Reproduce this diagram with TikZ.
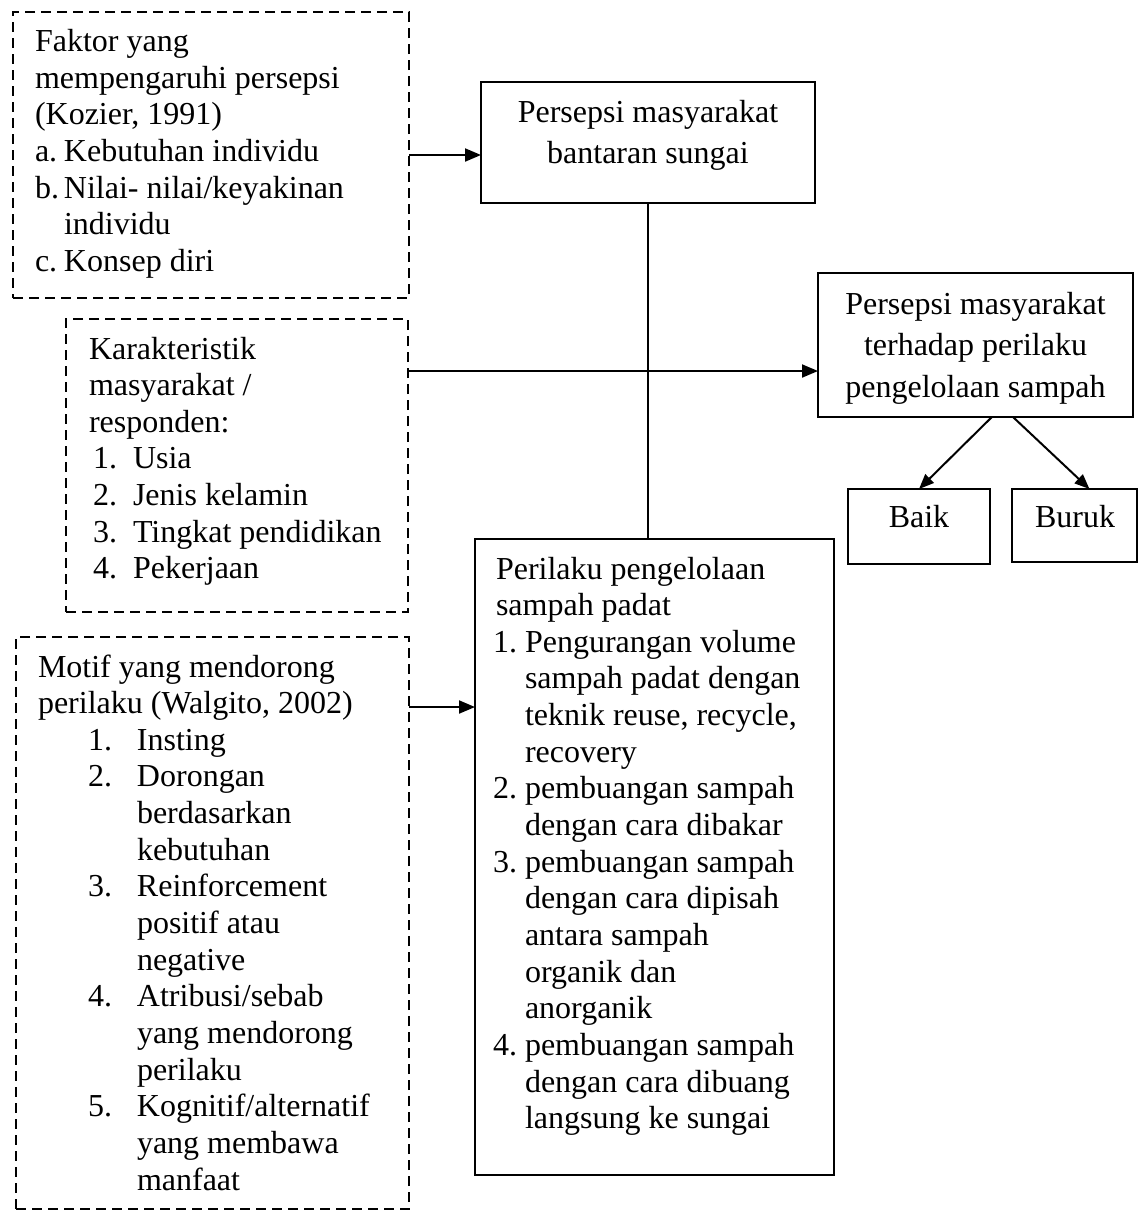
\documentclass[tikz,border=0pt]{standalone}
\usepackage{fontspec}
\setmainfont{Liberation Serif}
\usetikzlibrary{arrows.meta,calc}
\newcommand{\fsmain}{\fontsize{32}{36.65}\selectfont}
\begin{document}
\begin{tikzpicture}[x=1pt,y=-1pt,
  dashbox/.style={draw, line width=2.2pt, dash pattern=on 10pt off 6pt, rectangle, anchor=north west, inner sep=0pt, outer sep=0pt},
  solidbox/.style={draw, line width=2.2pt, rectangle, anchor=north west, inner sep=0pt, outer sep=0pt},
  txt/.style={inner sep=0pt, outer sep=0pt, anchor=base west, font=\fsmain},
  ctxt/.style={inner sep=0pt, outer sep=0pt, anchor=base, align=center},
  arr/.style={line width=2pt, -{Triangle[length=16pt,width=13pt]}},
  arrs/.style={line width=2pt, -{Triangle[length=15pt,width=12pt]}}
]
\fill[white] (0,0) rectangle (1138,1211);
\useasboundingbox (0,0) rectangle (1138,1211);

% dashed boxes
\node[dashbox, minimum width=396pt, minimum height=286pt] (f1) at (13,12) {};
\node[dashbox, minimum width=342pt, minimum height=293pt] (f2) at (66,319) {};
\node[dashbox, minimum width=393pt, minimum height=572pt] (f3) at (16,637) {};

% solid boxes
\node[solidbox, minimum width=334pt, minimum height=121pt] (p1) at (481,82) {};
\node[solidbox, minimum width=315pt, minimum height=144pt] (p2) at (818,273) {};
\node[solidbox, minimum width=142pt, minimum height=75pt] (baik) at (848,489) {};
\node[solidbox, minimum width=125pt, minimum height=73pt] (buruk) at (1012,489) {};
\node[solidbox, minimum width=359pt, minimum height=636pt] (pr) at (475,539) {};

% texts
\node[txt] (t1) at (35,51.5) {\begin{tabular}[t]{@{}p{29pt}@{}l@{}}
\multicolumn{2}{@{}l@{}}{Faktor yang}\\
\multicolumn{2}{@{}l@{}}{mempengaruhi persepsi}\\
\multicolumn{2}{@{}l@{}}{(Kozier, 1991)}\\
a. & Kebutuhan individu\\
b. & Nilai- nilai/keyakinan\\
 & individu\\
c. & Konsep diri
\end{tabular}};

\node[txt] (t2) at (89,359) {\begin{tabular}[t]{@{}p{44pt}@{}l@{}}
\multicolumn{2}{@{}l@{}}{Karakteristik}\\
\multicolumn{2}{@{}l@{}}{masyarakat /}\\
\multicolumn{2}{@{}l@{}}{responden:}\\
\hspace*{4pt}1. & Usia\\
\hspace*{4pt}2. & Jenis kelamin\\
\hspace*{4pt}3. & Tingkat pendidikan\\
\hspace*{4pt}4. & Pekerjaan
\end{tabular}};

\node[txt] (t3) at (38,677) {\begin{tabular}[t]{@{}p{99pt}@{}l@{}}
\multicolumn{2}{@{}l@{}}{Motif yang mendorong}\\
\multicolumn{2}{@{}l@{}}{perilaku (Walgito, 2002)}\\
\hspace*{50pt}1. & Insting\\
\hspace*{50pt}2. & Dorongan\\
 & berdasarkan\\
 & kebutuhan\\
\hspace*{50pt}3. & Reinforcement\\
 & positif atau\\
 & negative\\
\hspace*{50pt}4. & Atribusi/sebab\\
 & yang mendorong\\
 & perilaku\\
\hspace*{50pt}5. & Kognitif/alternatif\\
 & yang membawa\\
 & manfaat
\end{tabular}};

\node[txt] (t4) at (493,579) {\begin{tabular}[t]{@{}p{32pt}@{}l@{}}
\multicolumn{2}{@{}l@{}}{\hspace*{3pt}Perilaku pengelolaan}\\
\multicolumn{2}{@{}l@{}}{\hspace*{3pt}sampah padat}\\
1. & Pengurangan volume\\
 & sampah padat dengan\\
 & teknik reuse, recycle,\\
 & recovery\\
2. & pembuangan sampah\\
 & dengan cara dibakar\\
3. & pembuangan sampah\\
 & dengan cara dipisah\\
 & antara sampah\\
 & organik dan\\
 & anorganik\\
4. & pembuangan sampah\\
 & dengan cara dibuang\\
 & langsung ke sungai
\end{tabular}};

\node[ctxt, font=\fontsize{32}{41}\selectfont] (tp1) at (648,122) {\begin{tabular}[t]{@{}c@{}}Persepsi masyarakat\\bantaran sungai\end{tabular}};
\node[ctxt, font=\fontsize{32}{41.5}\selectfont] (tp2) at (975.5,314) {\begin{tabular}[t]{@{}c@{}}Persepsi masyarakat\\terhadap perilaku\\pengelolaan sampah\end{tabular}};
\node[ctxt, font=\fsmain] (tb) at (919,527) {Baik};
\node[ctxt, font=\fsmain] (tbu) at (1075,527) {Buruk};

% connector end points
\coordinate (c2) at ($(f2.north east)!0.1775!(f2.south east)$);
\coordinate (c3) at ($(f3.north east)!0.1224!(f3.south east)$);
\coordinate (s1) at ($(p2.south west)!0.552!(p2.south east)$);
\coordinate (s2) at ($(p2.south west)!0.619!(p2.south east)$);
\coordinate (e2) at ($(buruk.north west)!0.62!(buruk.north east)$);

% connectors
\draw[arr] (f1.east) -- (f1.east -| p1.west);
\draw[line width=2pt] (p1.south) -- (p1.south |- pr.north);
\draw[arr] (c2) -- (c2 -| p2.west);
\draw[arr] (c3) -- (c3 -| pr.west);
\draw[arrs] (s1) -- (baik.north);
\draw[arrs] (s2) -- (e2);
\end{tikzpicture}
\end{document}
